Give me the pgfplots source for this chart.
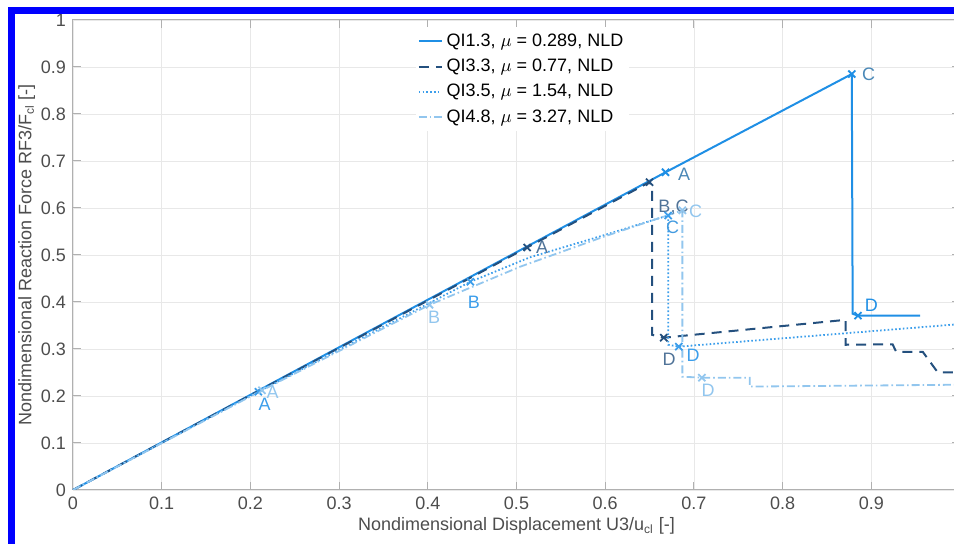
\documentclass[border=0pt]{standalone}
\usepackage{fontspec}
\setmainfont{Liberation Sans}
\usepackage{pgfplots}
\pgfplotsset{compat=1.18}

\definecolor{qiA}{HTML}{1F8FE5}
\definecolor{qiB}{HTML}{24507E}
\definecolor{qiC}{HTML}{3C9EEB}
\definecolor{qiD}{HTML}{92C6EE}
\definecolor{gridc}{HTML}{E8E8E8}
\definecolor{axc}{HTML}{B0B0B0}
\definecolor{txt}{HTML}{4D4D4D}

\begin{document}
\begin{tikzpicture}
\useasboundingbox (-36.5pt,-27pt) rectangle (440.5pt,245pt);
\clip (-36.5pt,-27pt) rectangle (440.5pt,245pt);
\begin{axis}[
	scale only axis,
	width=443.5pt, height=235pt,
	xmin=0, xmax=1, ymin=0, ymax=1,
	xtick={0,0.1,...,0.9}, ytick={0,0.1,...,1},
	extra x ticks={1}, extra x tick labels={},
	extra x tick style={grid=major},
	font=\fontsize{9}{10}\selectfont,
	/pgf/number format/assume math mode=true,
	tick label style={text=txt},
	label style={text=txt},
	xlabel={Nondimensional Displacement U3/u$_{\mathrm{cl}}$ [-]},
	ylabel={Nondimensional Reaction Force RF3/F$_{\mathrm{cl}}$ [-]},
	xlabel style={yshift=3pt},
	ylabel style={yshift=-4pt},
	grid=major,
	major grid style={draw=gridc, line width=0.4pt},
	axis line style={draw=axc, line width=0.5pt},
	tick style={draw=axc, line width=0.5pt},
	tick align=inside,
	major tick length=4pt,
	legend style={at={(0.386,0.985)}, anchor=north west, draw=none, fill=white,
		font=\fontsize{9}{10}\selectfont, row sep=0.9pt, inner sep=1pt,
		cells={anchor=west}},
	legend image code/.code={\draw[#1] (0cm,0cm) -- (0.4cm,0cm);},
]
% QI1.3 solid
\addplot[color=qiA, line width=1pt, solid] coordinates {
	(0,0) (0.668,0.676) (0.878,0.885) (0.879,0.375) (0.885,0.371) (0.955,0.371)};
\addlegendentry{QI1.3, $\mu$ = 0.289, NLD}
% QI3.3 dashed
\addplot[color=qiB, line width=1pt, dash pattern=on 5pt off 3.5pt] coordinates {
	(0,0) (0.512,0.516) (0.650,0.655) (0.653,0.645) (0.653,0.330) (0.666,0.324)
	(0.871,0.362) (0.871,0.309) (0.924,0.310) (0.928,0.294) (0.958,0.294)
	(0.975,0.250) (1.0,0.250)};
\addlegendentry{QI3.3, $\mu$ = 0.77, NLD}
% QI3.5 dotted
\addplot[color=qiC, line width=0.9pt, dash pattern=on 0.8pt off 1.1pt] coordinates {
	(0,0) (0.209,0.209) (0.448,0.443) (0.515,0.495) (0.602,0.544) (0.655,0.575)
	(0.671,0.584) (0.671,0.309) (0.683,0.305) (1.0,0.353)};
\addlegendentry{QI3.5, $\mu$ = 1.54, NLD}
% QI4.8 dash-dot
\addplot[color=qiD, line width=0.9pt, dash pattern=on 4pt off 1.5pt on 0.8pt off 1.5pt] coordinates {
	(0,0) (0.213,0.212) (0.402,0.394) (0.504,0.475) (0.600,0.540) (0.687,0.595)
	(0.687,0.241) (0.709,0.239) (0.763,0.239) (0.763,0.220) (1.0,0.224)};
\addlegendentry{QI4.8, $\mu$ = 3.27, NLD}

% event markers
\addplot[forget plot, only marks, mark=x, mark size=2.5pt, color=qiA, line width=0.9pt]
	coordinates {(0.668,0.676) (0.878,0.885) (0.885,0.371)};
\addplot[forget plot, only marks, mark=x, mark size=2.5pt, color=qiB, line width=0.9pt]
	coordinates {(0.512,0.516) (0.650,0.655) (0.666,0.324)};
\addplot[forget plot, only marks, mark=x, mark size=2.5pt, color=qiC, line width=0.9pt]
	coordinates {(0.209,0.209) (0.448,0.443) (0.671,0.584) (0.683,0.305)};
\addplot[forget plot, only marks, mark=x, mark size=2.5pt, color=qiD, line width=0.9pt]
	coordinates {(0.213,0.212) (0.402,0.394) (0.687,0.595) (0.709,0.239)};

% event labels
\begin{scope}[every node/.style={font=\fontsize{9}{10}\selectfont, inner sep=0pt}]
\node[text=qiA!55!gray] at (axis cs:0.689,0.672) {A};
\node[text=qiA!55!gray] at (axis cs:0.897,0.885) {C};
\node[text=qiA] at (axis cs:0.900,0.394) {D};
\node[text=qiB!80!white] at (axis cs:0.529,0.516) {A};
\node[text=qiB!80!white] at (axis cs:0.677,0.601) {B,C};
\node[text=qiB!80!white] at (axis cs:0.672,0.277) {D};
\node[text=qiC] at (axis cs:0.216,0.183) {A};
\node[text=qiC] at (axis cs:0.452,0.399) {B};
\node[text=qiC!90!gray] at (axis cs:0.676,0.559) {C};
\node[text=qiC] at (axis cs:0.699,0.286) {D};
\node[text=qiD] at (axis cs:0.225,0.207) {A};
\node[text=qiD] at (axis cs:0.407,0.367) {B};
\node[text=qiD] at (axis cs:0.702,0.593) {C};
\node[text=qiD] at (axis cs:0.716,0.213) {D};
\end{scope}
\end{axis}
% outer blue frame, cropped on the right and bottom like the reference
\draw[draw=blue, line width=3.4pt] (-30.85pt,-40pt) -- (-30.85pt,239.75pt) -- (460pt,239.75pt);
\end{tikzpicture}
\end{document}
